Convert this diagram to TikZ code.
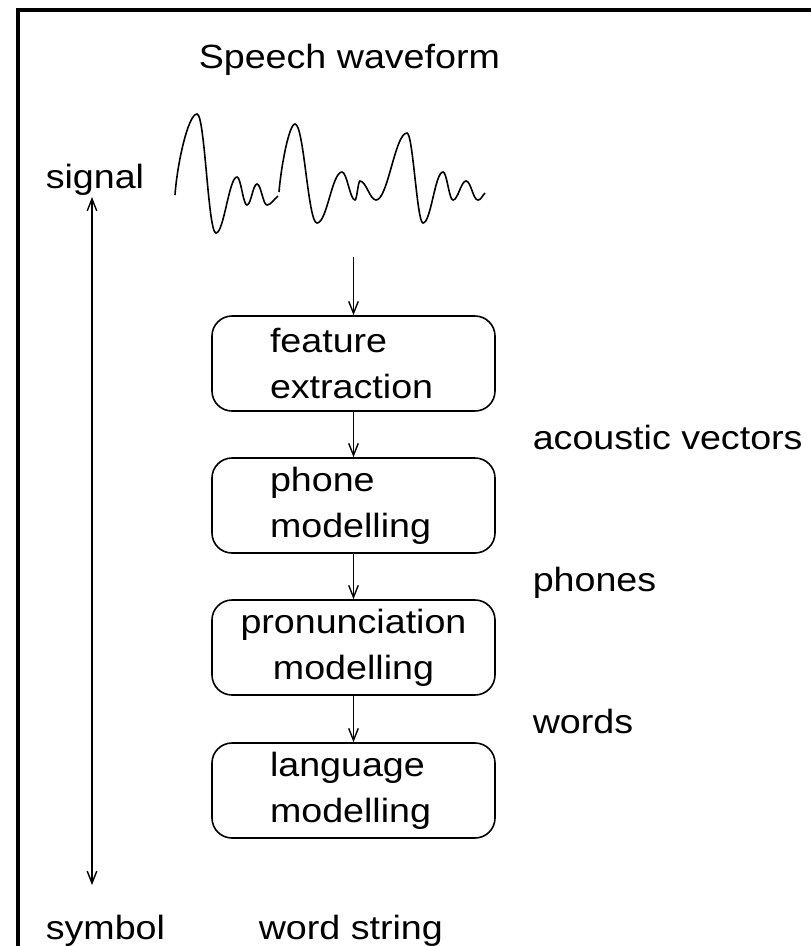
\documentclass[tikz,border=0pt]{standalone}
\usepackage{fontspec}
\setmainfont{Liberation Sans}[FakeStretch=1.12]
\usetikzlibrary{arrows.meta,positioning}

\tikzset{
  stage/.style={draw, rounded corners=5pt, line width=0.4pt,
    minimum width=70.75pt, minimum height=23.75pt,
    text width=41.75pt, inner xsep=14.5pt, inner ysep=0pt, align=left},
  flow/.style={->, line width=0.35pt},
  span/.style={<->, line width=0.35pt},
  lbl/.style={anchor=base west, inner sep=0pt},
}

\begin{document}
\begin{tikzpicture}[x=0.25pt, y=-0.25pt, font=\fontsize{8.4}{11.5}\selectfont,
  >={Straight Barb[length=3pt,width=2.4pt]}]
\useasboundingbox (0,0) rectangle (811,946);

% frame
\draw[line width=1pt] (18,946) -- (18,10) -- (811,10);

% waveform
\node[lbl] (title) at (198,68) {Speech waveform};
\draw[line width=0.4pt] (175,195) .. controls +(2,-30) and +(-9,0) .. (197,114)
  .. controls +(8,0) and +(-8,0) .. (216,233)
  .. controls +(8,0) and +(-8,0) .. (237,177)
  .. controls +(4,0) and +(-4,0) .. (247,205)
  .. controls +(4,0) and +(-4,0) .. (257,184)
  .. controls +(4,0) and +(-4,0) .. (267,205)
  .. controls +(4,0) and +(-4,3) .. (278,196);
\draw[line width=0.4pt] (279,192) .. controls +(2,-25) and +(-6,0) .. (295,124)
  .. controls +(9,0) and +(-9,0) .. (317,223)
  .. controls +(10,0) and +(-10,0) .. (342,172)
  .. controls +(5,0) and +(-5,0) .. (355,200)
  .. controls +(2,0) and +(-2,0) .. (360,181)
  .. controls +(6,0) and +(-6,0) .. (376,200)
  .. controls +(12,0) and +(-12,0) .. (407,133)
  .. controls +(6,0) and +(-6,0) .. (423,223)
  .. controls +(8,0) and +(-8,0) .. (443,172)
  .. controls +(4,0) and +(-4,0) .. (453,200)
  .. controls +(5,0) and +(-5,0) .. (466,181)
  .. controls +(5,0) and +(-5,0) .. (478,200)
  .. controls +(3,0) and +(-3,3) .. (485,193);
\coordinate (wave) at (353.5,257);

% signal / symbol axis
\node[lbl] (sig) at (45,188) {signal};
\node[lbl] (sym) at (45,939) {symbol};
\coordinate (axtop) at (92,197);
\coordinate (axbot) at (92,885);
\draw[span] (axtop) -- (axbot);

% stages
\node[stage] (feat) at (353.5,363.5) {feature\\extraction};
\node[stage] (phone) at (353.5,505.5) {phone\\modelling};
\node[stage, align=center, text width=56.5pt, inner xsep=7.125pt] (pron) at (353.5,647.5) {pronunciation\\modelling};
\node[stage] (lang) at (353.5,790.5) {language\\modelling};

\draw[flow] (wave) -- (feat);
\draw[flow] (feat) -- (phone);
\draw[flow] (phone) -- (pron);
\draw[flow] (pron) -- (lang);

% intermediate outputs
\node[lbl] (acvec) at (532,449) {acoustic vectors};
\node[lbl] (phones) at (532,591) {phones};
\node[lbl] (words) at (532,733) {words};
\node[lbl] (out) at (258,939) {word string};
\end{tikzpicture}
\end{document}
